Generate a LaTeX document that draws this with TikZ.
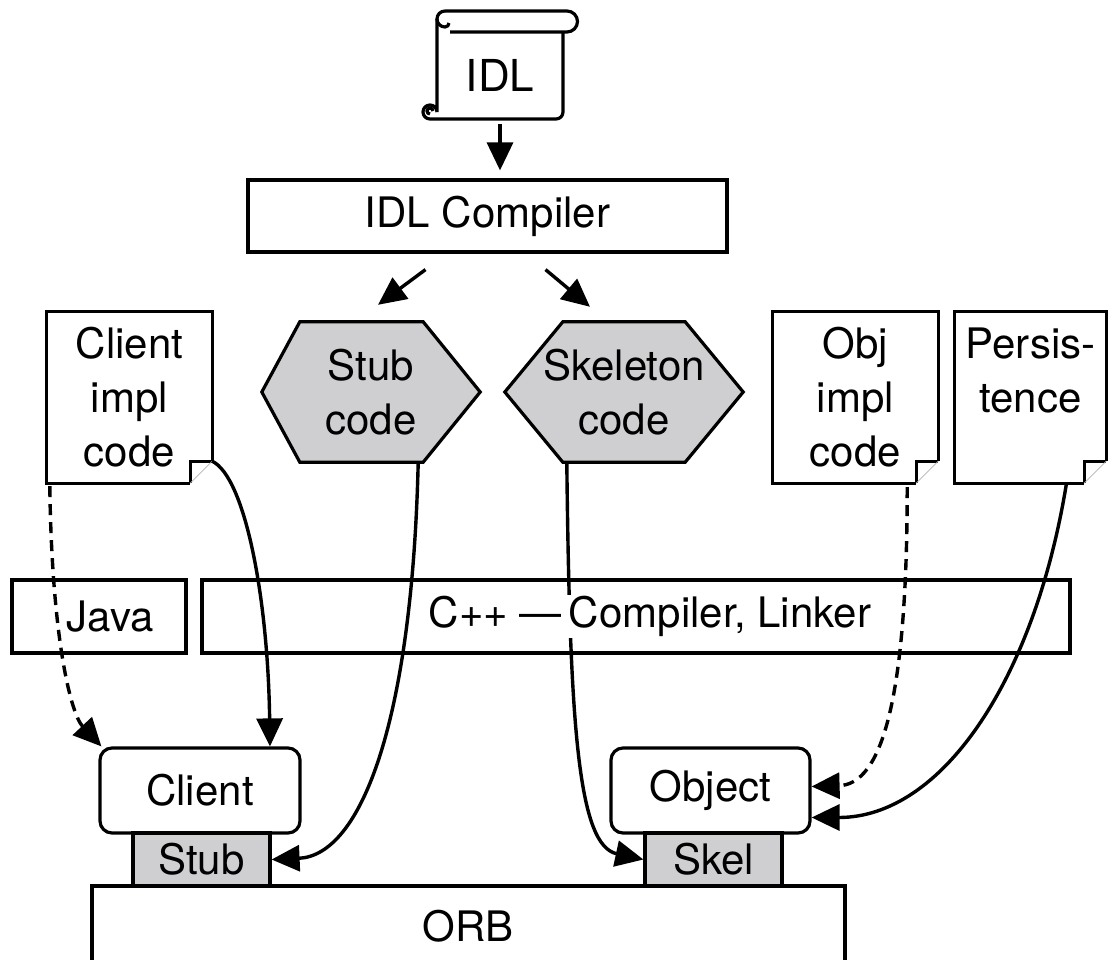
\documentclass[tikz,border=0pt]{standalone}
\usepackage{fontspec}
\setmainfont{TeX Gyre Heros}
\usetikzlibrary{arrows.meta,backgrounds}
\definecolor{codegray}{RGB}{207,207,210}
% document page with a folded corner round a named node
\newcommand{\docfold}[1]{%
  \draw[boxline] ([xshift=-22pt]#1.south east) -- (#1.south west) -- (#1.north west) -- (#1.north east) -- ([yshift=22pt]#1.south east);
  \draw[boxline] ([xshift=-22pt]#1.south east) -- ([xshift=-22pt,yshift=22pt]#1.south east) -- ([yshift=22pt]#1.south east);
  \draw[gray!60,thick] ([xshift=-22pt]#1.south east) -- ([yshift=22pt]#1.south east);}
\begin{document}
\begin{tikzpicture}[x=1pt,y=-1pt,
  font=\fontsize{42}{54}\selectfont,
  boxline/.style={line width=3.2pt},
  box/.style={draw,boxline,inner sep=0pt,align=center},
  codebox/.style={box,fill=codegray},
  page/.style={inner sep=0pt,align=center,minimum width=165pt,minimum height=171pt},
  hexnode/.style={inner sep=0pt,align=center,minimum height=140pt},
  arr/.style={line width=3.4pt,-{Triangle[length=28pt,width=26pt]}},
  dsh/.style={arr,dash pattern=on 11pt off 7pt}]
\useasboundingbox (0,0) rectangle (1108,960);

% IDL scroll
\node (idl) [inner sep=0pt,minimum width=126pt,minimum height=88pt] at (500,75) {\fontsize{44}{54}\selectfont IDL};
\draw[boxline] (445,11) -- (567,11) arc[start angle=90,end angle=-90,radius=10.5pt] -- (450,32);
\draw[boxline] (445,11) arc[start angle=90,end angle=270,radius=8pt] arc[start angle=270,end angle=360,radius=4pt];
\draw[boxline] (437,19) -- (437,112) arc[start angle=0,end angle=270,radius=7pt] -- (556,119)
  arc[start angle=270,end angle=360,radius=7pt] -- (563,32);
\draw[boxline] (433,111) arc[start angle=0,end angle=270,radius=3pt];

\node (idlc) [box,minimum width=479pt,minimum height=72pt] at (487.5,216) {IDL Compiler};

\node (stubc) [hexnode,minimum width=218pt] at (371,392) {Stub\\code};
\node (skelc) [hexnode,minimum width=238pt] at (624,392) {Skeleton\\code};
\begin{scope}[on background layer]
  \filldraw[boxline,fill=codegray] ([xshift=38pt]stubc.north west) -- ([xshift=-57pt]stubc.north east) -- (stubc.east)
    -- ([xshift=-57pt]stubc.south east) -- ([xshift=38pt]stubc.south west) -- (stubc.west) -- cycle;
  \filldraw[boxline,fill=codegray] ([xshift=58pt]skelc.north west) -- ([xshift=-58pt]skelc.north east) -- (skelc.east)
    -- ([xshift=-58pt]skelc.south east) -- ([xshift=58pt]skelc.south west) -- (skelc.west) -- cycle;
\end{scope}

\node (cdoc) [page] at (129.5,397.5) {Client\\impl\\code};
\node (odoc) [page] at (855.5,397.5) {Obj\\impl\\code};
\node (pdoc) [page,minimum width=151pt] at (1030.5,397.5) {Persis-\\tence\\\mbox{}};
\docfold{cdoc}
\docfold{odoc}
\docfold{pdoc}

\node (java) [box,minimum width=174pt,minimum height=73pt] at (99,616.5) {\hspace*{22pt}Java};
\node (cpp) [box,minimum width=868pt,minimum height=73pt] at (636,616.5) {};

\node (client) [box,rounded corners=12pt,minimum width=200pt,minimum height=85pt] at (200,790.5) {Client};
\node (stub) [codebox,minimum width=137pt,minimum height=53pt] at (201.5,859.5) {Stub};
\node (object) [box,rounded corners=12pt,minimum width=199pt,minimum height=85pt] at (710.5,790.5) {Object};
\node (skel) [codebox,minimum width=137pt,minimum height=53pt] at (713.5,859.5) {Skel};
\node (orb) [box,minimum width=753pt,minimum height=80pt] at (468.5,926) {ORB};

% compiler steps
\draw[arr,shorten <=5pt,shorten >=8pt] (idl.south) -- (idl.south |- idlc.north);
\draw[arr] ([xshift=-62pt,yshift=-16pt]idlc.south) -- ([xshift=7pt,yshift=17pt]stubc.north);
\draw[arr] ([xshift=58pt,yshift=-16pt]idlc.south) -- ([xshift=-34pt,yshift=15pt]skelc.north);

% into the executables
\draw[dsh] ([xshift=3pt,yshift=-3pt]cdoc.south west) .. controls +(2,150) and +(-31,-33) .. ([xshift=3pt]client.north west);
\draw[arr] ([yshift=22pt]cdoc.south east) .. controls +(33,16) and +(-2,-148) .. ([xshift=70pt]client.north);
\draw[arr] ([xshift=-62pt]stubc.south east) .. controls +(-6,258) and +(90,-4) .. (stub.east);
\draw[arr] ([xshift=62pt]skelc.south west) .. controls +(3,268) and +(-65,-14) .. (skel.west);
\draw[dsh] ([xshift=-31pt,yshift=-4pt]odoc.south east) .. controls +(0,213) and +(70,-2) .. ([yshift=4pt]object.east);
\draw[arr] ([xshift=36pt]pdoc.south) .. controls +(-32,197) and +(130,0) .. ([yshift=-27pt]object.east);

\node (cpplabel) [fill=white,inner sep=1pt] at ([xshift=14pt]cpp.center) {C++ ---\,Compiler, Linker};
\end{tikzpicture}
\end{document}
